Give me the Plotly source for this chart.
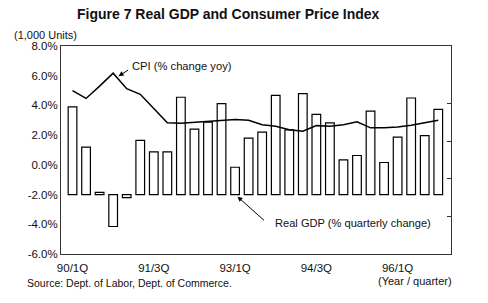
import plotly.graph_objects as go

quarters = ["90/1Q", "90/2Q", "90/3Q", "90/4Q", "91/1Q", "91/2Q", "91/3Q", "91/4Q",
            "92/1Q", "92/2Q", "92/3Q", "92/4Q", "93/1Q", "93/2Q", "93/3Q", "93/4Q",
            "94/1Q", "94/2Q", "94/3Q", "94/4Q", "95/1Q", "95/2Q", "95/3Q", "95/4Q",
            "96/1Q", "96/2Q", "96/3Q", "96/4Q"]
gdp = [3.9, 1.2, -1.85, -4.15, -2.2, 1.65, 0.87, 0.87, 4.55, 2.4, 2.87, 4.12,
       -0.16, 1.8, 2.2, 4.68, 2.35, 4.8, 3.4, 2.83, 0.34, 0.63, 3.62, 0.16,
       1.87, 4.5, 1.97, 3.73]
cpi = [5.0, 4.47, 5.3, 6.17, 5.13, 4.75, 3.8, 2.83, 2.8, 2.87, 2.93, 3.0,
       3.05, 3.0, 2.7, 2.6, 2.37, 2.26, 2.64, 2.6, 2.7, 2.9, 2.49, 2.5,
       2.55, 2.67, 2.83, 3.0]
bar_base = -2.0
tick_idx = [0, 6, 12, 18, 24]
tick_text = ["90/1Q", "91/3Q", "93/1Q", "94/3Q", "96/1Q"]
y_ticks = [-6, -4, -2, 0, 2, 4, 6, 8]
y_tick_text = ["-6.0%", "-4.0%", "-2.0%", "0.0%", "2.0%", "4.0%", "6.0%", "8.0%"]

FONT = "Arial, 'Liberation Sans', sans-serif"
x_idx = list(range(len(quarters)))

fig = go.Figure()
fig.add_trace(go.Bar(
    x=x_idx, y=[v - bar_base for v in gdp], base=bar_base,
    marker=dict(color="white", line=dict(color="black", width=1.2)),
    width=0.64, showlegend=False, hoverinfo="skip"))
fig.add_trace(go.Scatter(
    x=x_idx, y=cpi, mode="lines",
    line=dict(color="black", width=1.5), showlegend=False))
# dummy trace for right axis ticks
fig.add_trace(go.Scatter(x=[0], y=[0], yaxis="y2", mode="markers",
                         marker=dict(opacity=0), showlegend=False, hoverinfo="skip"))

fig.update_layout(
    width=488, height=303,
    margin=dict(l=61, r=37, t=46, b=49),
    paper_bgcolor="white", plot_bgcolor="white",
    font=dict(family=FONT, size=11, color="#111"),
    xaxis=dict(range=[-0.85, 27.94], tickvals=tick_idx, ticktext=tick_text,
               showgrid=False, zeroline=False, showline=True, mirror=True,
               linecolor="#333", linewidth=1, ticks="", tickfont=dict(size=11.5),
               ticklabelstandoff=3),
    yaxis=dict(range=[-6, 8], tickvals=y_ticks, ticktext=y_tick_text,
               showgrid=False, zeroline=False, showline=True, linecolor="#333",
               linewidth=1, ticks="", tickfont=dict(size=11.5)),
    yaxis2=dict(overlaying="y", side="right", range=[0, 5.533],
                tickvals=[1, 2, 3, 4], showticklabels=False, ticks="inside",
                ticklen=4, tickcolor="#333", showgrid=False, zeroline=False,
                showline=True, linecolor="#333", linewidth=1),
    bargap=0.3,
)

ann = [
    dict(text="<b>Figure 7 Real GDP and Consumer Price Index</b>", x=0.429, y=1.152,
         xref="paper", yref="paper", showarrow=False, font=dict(size=14, color="#111"),
         xanchor="center", yanchor="middle"),
    dict(text="(1,000 Units)", x=-0.1256, y=1.0506, xref="paper", yref="paper",
         showarrow=False, xanchor="left", yanchor="middle"),
    dict(text="CPI (% change yoy)", x=0.1777, y=0.9027, xref="paper", yref="paper",
         showarrow=False, xanchor="left", yanchor="middle", font=dict(size=11.2)),
    dict(text="Real GDP (% quarterly change)", x=0.5444, y=0.1508, xref="paper",
         yref="paper", showarrow=False, xanchor="left", yanchor="middle",
         font=dict(size=11.1)),
    dict(text="(Year / quarter)", x=1.0069, y=-0.1287, xref="paper", yref="paper",
         showarrow=False, xanchor="right", yanchor="middle"),
    dict(text="Source: Dept. of Labor, Dept. of Commerce.", x=-0.0915, y=-0.1398,
         xref="paper", yref="paper", showarrow=False, xanchor="left", yanchor="middle",
         font=dict(size=10.5)),
    dict(text="", x=3.4, y=5.97, xref="x", yref="y", showarrow=True, ax=11, ay=-7,
         arrowhead=2, arrowsize=1, arrowwidth=1, arrowcolor="black"),
    dict(text="", x=12.18, y=-2.14, xref="x", yref="y", showarrow=True, ax=28, ay=25,
         arrowhead=2, arrowsize=1, arrowwidth=1, arrowcolor="black"),
]
fig.update_layout(annotations=ann)
fig.write_html("out.html")
